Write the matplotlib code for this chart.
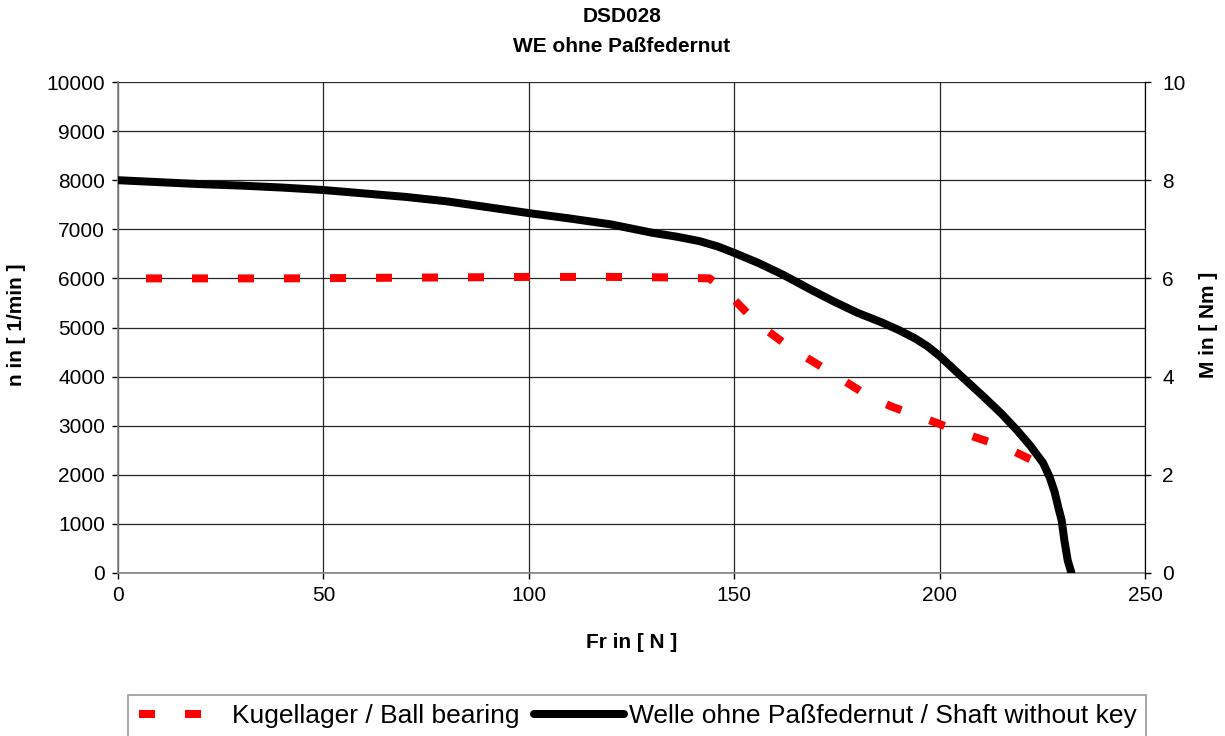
import matplotlib
matplotlib.use("Agg")
import matplotlib.pyplot as plt
from matplotlib.lines import Line2D

plt.rcParams['font.family'] = ['Liberation Sans', 'DejaVu Sans']
plt.rcParams['lines.scale_dashes'] = False

title_lines = ["DSD028", "WE ohne Paßfedernut"]
x_label = "Fr in [ N ]"
y_label_left = "n in [ 1/min ]"
y_label_right = "M in [ Nm ]"
legend_labels = ["Kugellager / Ball bearing", "Welle ohne Paßfedernut / Shaft without key"]

# Ball bearing (red dashed)
fr_ball = [0, 20, 40, 60, 80, 100, 120, 135, 144, 148.8, 155.4, 163.6, 173.6, 183.3,
           188.6, 199.2, 205.3, 216.3, 223.2, 224.8]
n_ball = [6000, 6000, 6000, 6010, 6020, 6030, 6030, 6020, 6000, 5670, 5100, 4590, 4080,
          3570, 3380, 3060, 2860, 2550, 2270, 2170]

# Shaft without key (black)
fr_shaft = [0, 10, 20, 30, 40, 50, 60, 70, 80, 90, 100, 110, 120, 130, 136, 141.5, 146,
            150, 156, 162, 168, 174, 180, 186, 190, 194, 197, 200, 205, 210.6, 215,
            218.7, 222, 225.2, 226.8, 228, 229, 229.7, 230.4, 231.2, 232.1]
n_shaft = [8000, 7960, 7920, 7890, 7850, 7800, 7730, 7660, 7570, 7450, 7330, 7220, 7100,
           6930, 6850, 6760, 6650, 6520, 6310, 6070, 5800, 5540, 5300, 5100, 4950, 4780,
           4620, 4420, 4030, 3600, 3250, 2920, 2600, 2240, 1950, 1650, 1300, 1080, 650,
           250, 0]

x_ticks = [0, 50, 100, 150, 200, 250]
y_ticks_left = list(range(0, 10001, 1000))
y_ticks_right = [0, 2, 4, 6, 8, 10]

W, H = 1225, 736
fig = plt.figure(figsize=(W / 100, H / 100), dpi=100)
L, R, T, B = 118, 1145, 82, 573
ax = fig.add_axes([L / W, 1 - B / H, (R - L) / W, (B - T) / H])

px = 0.72  # points per pixel
dash = (18 * px, (16 * px, 30 * px))
ax.plot(fr_ball, n_ball, color='#ff0000', lw=8 * px, linestyle=dash,
        dash_capstyle='butt', dash_joinstyle='round', zorder=3)
ax.plot(fr_shaft, n_shaft, color='black', lw=8 * px, solid_capstyle='round',
        solid_joinstyle='round', zorder=4)

ax.set_xlim(0, 250)
ax.set_ylim(0, 10000)
ax.set_xticks(x_ticks)
ax.set_yticks(y_ticks_left)
ax.grid(True, color='#000000', lw=0.9, alpha=0.85)
ax.set_axisbelow(True)
ax.tick_params(axis='both', direction='out', length=6 * px, width=1,
               labelsize=15, colors='black', pad=5)
for s in ['left', 'bottom']:
    ax.spines[s].set_color('#808080')
    ax.spines[s].set_linewidth(1.2)
ax.spines['top'].set_visible(False)
ax.spines['right'].set_color('black')

ax2 = ax.twinx()
ax2.set_ylim(0, 10)
ax2.set_yticks(y_ticks_right)
ax2.tick_params(axis='y', direction='out', length=6 * px, width=1,
                labelsize=15, pad=8)
for s in ['left', 'bottom', 'top']:
    ax2.spines[s].set_visible(False)
ax2.spines['right'].set_color('black')

fig.text(632 / W, 1 - 642 / H, x_label, fontsize=15, fontweight='bold',
         ha='center', va='center')
fig.text(17 / W, 1 - 325 / H, y_label_left, fontsize=15, fontweight='bold',
         ha='center', va='center', rotation=90)
fig.text(1208 / W, 1 - 325 / H, y_label_right, fontsize=15, fontweight='bold',
         ha='center', va='center', rotation=90)
fig.text(622 / W, 1 - 17 / H, title_lines[0], fontsize=15, fontweight='bold',
         ha='center', va='center')
fig.text(622 / W, 1 - 46 / H, title_lines[1], fontsize=15, fontweight='bold',
         ha='center', va='center')

handles = [
    Line2D([0], [0], color='#ff0000', lw=8 * px, linestyle=(44 * px, (16 * px, 30 * px)),
           dash_capstyle='butt'),
    Line2D([0], [0], color='black', lw=8 * px, solid_capstyle='round'),
]
leg = fig.legend(handles, legend_labels, loc='upper left',
                 bbox_to_anchor=(128 / W, 1 - 695 / H), ncol=2, fontsize=19,
                 frameon=True, fancybox=False, edgecolor='#808080',
                 handlelength=3.4, handletextpad=0.2, columnspacing=0.55,
                 borderpad=0.35, borderaxespad=0)
leg.get_frame().set_linewidth(1.2)

fig.savefig("out.png", dpi=100)
